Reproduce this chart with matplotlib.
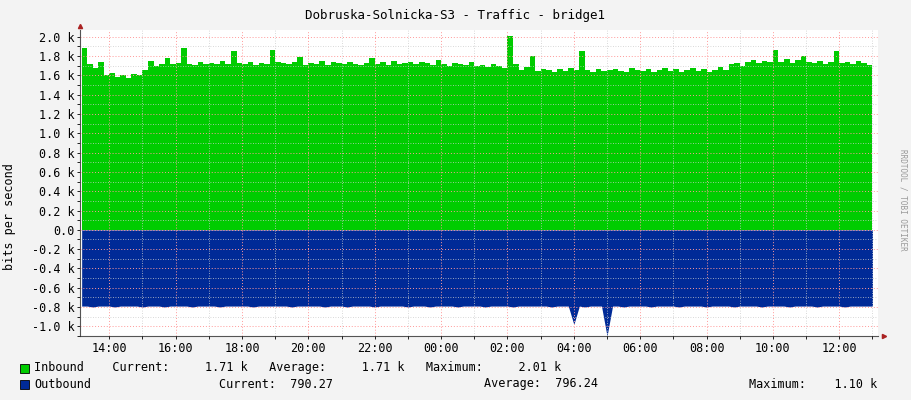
import matplotlib
matplotlib.use("Agg")
import matplotlib.pyplot as plt
import numpy as np
from matplotlib.ticker import FixedLocator, MultipleLocator

start_hour = 13 + 10/60
step_hours = 1/6
inbound_k = [
 1.88,1.72,1.68,1.74,1.60,1.62,1.58,1.60,1.57,1.61,1.60,1.66,
 1.75,1.70,1.72,1.78,1.72,1.73,1.88,1.72,1.71,1.74,1.72,1.73,
 1.72,1.75,1.72,1.85,1.73,1.72,1.74,1.71,1.73,1.72,1.86,1.74,
 1.73,1.72,1.74,1.79,1.71,1.73,1.72,1.75,1.71,1.74,1.73,1.72,
 1.74,1.72,1.71,1.73,1.78,1.72,1.74,1.71,1.75,1.72,1.73,1.74,
 1.72,1.74,1.73,1.71,1.76,1.72,1.70,1.73,1.72,1.71,1.74,1.70,
 1.71,1.69,1.72,1.70,1.68,2.01,1.72,1.66,1.69,1.80,1.65,1.67,
 1.66,1.64,1.67,1.65,1.68,1.66,1.85,1.66,1.64,1.67,1.65,1.66,
 1.67,1.65,1.64,1.68,1.66,1.65,1.67,1.64,1.66,1.68,1.65,1.67,
 1.64,1.66,1.68,1.65,1.67,1.64,1.66,1.69,1.66,1.72,1.73,1.70,
 1.74,1.76,1.73,1.75,1.74,1.86,1.74,1.77,1.73,1.76,1.80,1.74,
 1.73,1.75,1.72,1.74,1.85,1.73,1.74,1.72,1.75,1.73,1.71,1.72,
]
outbound_k = [
 0.79,0.79,0.80,0.79,0.79,0.79,0.80,0.79,0.79,0.79,0.79,0.80,
 0.79,0.79,0.79,0.80,0.79,0.79,0.79,0.79,0.80,0.79,0.79,0.79,
 0.79,0.80,0.79,0.79,0.79,0.79,0.79,0.80,0.79,0.79,0.79,0.79,
 0.79,0.79,0.80,0.79,0.79,0.79,0.79,0.79,0.80,0.79,0.79,0.79,
 0.80,0.79,0.79,0.79,0.79,0.80,0.79,0.79,0.79,0.79,0.79,0.80,
 0.79,0.79,0.79,0.80,0.79,0.79,0.79,0.79,0.80,0.79,0.79,0.79,
 0.79,0.80,0.79,0.79,0.79,0.79,0.80,0.79,0.79,0.79,0.79,0.79,
 0.79,0.80,0.79,0.79,0.79,0.98,0.79,0.80,0.79,0.79,0.79,1.10,
 0.79,0.79,0.80,0.79,0.79,0.79,0.79,0.80,0.79,0.79,0.79,0.79,
 0.80,0.79,0.79,0.79,0.79,0.80,0.79,0.79,0.79,0.79,0.80,0.79,
 0.79,0.79,0.79,0.80,0.79,0.79,0.79,0.79,0.80,0.79,0.79,0.79,
 0.79,0.80,0.79,0.79,0.79,0.79,0.80,0.79,0.79,0.79,0.79,0.79,
]
tick_hours = [14,16,18,20,22,24,26,28,30,32,34,36]
tick_labels = ["14:00","16:00","18:00","20:00","22:00","00:00","02:00","04:00","06:00","08:00","10:00","12:00"]
ytick_vals = [-1.0,-0.8,-0.6,-0.4,-0.2,0.0,0.2,0.4,0.6,0.8,1.0,1.2,1.4,1.6,1.8,2.0]

plt.rcParams['font.family'] = ['DejaVu Sans Mono']
mono = 8.5
x = start_hour + np.arange(len(inbound_k)) * step_hours
inb = np.array(inbound_k); outb = -np.array(outbound_k)

fig = plt.figure(figsize=(9.11, 4.0), dpi=100, facecolor='#f3f3f3')
ax = fig.add_axes([80/911, 64/400, 798/911, 306/400])
ax.set_facecolor('white')
ax.fill_between(x, 0, inb, color='#00CC00', lw=0, step='post')
ax.fill_between(x, 0, outb, color='#002A97', lw=0)
ax.set_xlim(x[0] - 0.05, x[-1] + step_hours)
ax.set_ylim(-1.1, 2.07)
ax.xaxis.set_major_locator(FixedLocator(tick_hours))
ax.set_xticklabels(tick_labels, fontsize=mono)
ax.xaxis.set_minor_locator(MultipleLocator(1))
ax.set_yticks(ytick_vals)
ax.set_yticklabels([("%.1f k" % v) if abs(v) > 1e-9 else "0.0" for v in ytick_vals], fontsize=mono)
ax.yaxis.set_minor_locator(MultipleLocator(0.1))
ax.grid(which='minor', color='#cccccc', ls=(0,(1,2)), lw=0.6)
ax.grid(which='major', color='#ff9999', ls=(0,(1,2)), lw=0.7)
ax.set_axisbelow(False)
ax.tick_params(which='both', length=2, width=0.6, pad=2)
for s in ['top','right']:
    ax.spines[s].set_visible(False)
for s in ['left','bottom']:
    ax.spines[s].set_color('#555555'); ax.spines[s].set_linewidth(0.8)
ax.plot(1.008, 0, '>', color='#aa2222', ms=3, transform=ax.transAxes, clip_on=False)
ax.plot(0, 1.012, '^', color='#aa2222', ms=3, transform=ax.transAxes, clip_on=False)

fig.text(455/911, 1-15/400, "Dobruska-Solnicka-S3 - Traffic - bridge1", ha='center', va='center', fontsize=9)
fig.text(10/911, 183/400, "bits per second", rotation=90, ha='center', va='center', fontsize=mono)
fig.text(903/911, 200/400, "RRDTOOL / TOBI OETIKER", rotation=270, ha='center', va='center', fontsize=5.5, color='#999999')

for yy, col in [(368, '#00CC00'), (384, '#002A97')]:
    fig.patches.append(plt.Rectangle((20/911, 1-(yy+5)/400), 9/911, 9/400, transform=fig.transFigure,
                                     facecolor=col, edgecolor='black', lw=0.6))
fig.text(34/911, 1-368/400, "Inbound    Current:     1.71 k   Average:     1.71 k   Maximum:     2.01 k", va='center', fontsize=mono)
fig.text(34/911, 1-384/400, "Outbound", va='center', fontsize=mono)
fig.text(219/911, 1-384/400, "Current:  790.27", va='center', fontsize=mono)
fig.text(484/911, 1-384/400, "Average:  796.24", va='center', fontsize=mono)
fig.text(749/911, 1-384/400, "Maximum:    1.10 k", va='center', fontsize=mono)

fig.savefig("out.png", dpi=100, facecolor=fig.get_facecolor())
